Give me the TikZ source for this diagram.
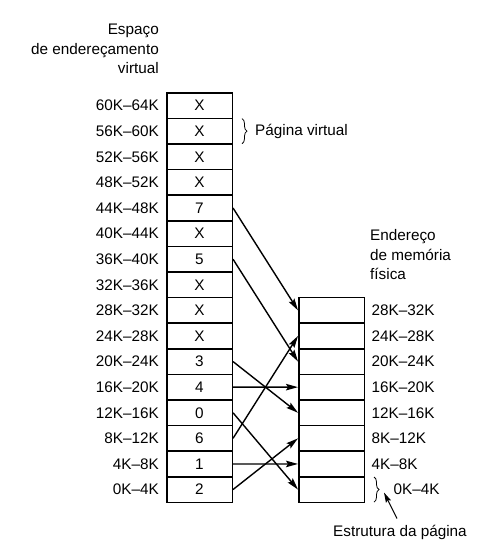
\documentclass[tikz,border=0pt]{standalone}
\usepackage{fontspec}
\setmainfont{Liberation Sans}
\usetikzlibrary{arrows.meta,decorations.pathreplacing,calc}
\begin{document}
\begin{tikzpicture}[x=1pt,y=-1pt,
  txt/.style={inner sep=0pt,font=\fontsize{15.3}{19.5}\selectfont},
  cell/.style={txt,draw,line width=1.5pt,minimum width=65.5pt,minimum height=25.6pt,anchor=north west},
  arr/.style={line width=1.4pt,-{Stealth[length=12pt,width=6.5pt,inset=2pt]}},
  arrsmall/.style={line width=1pt,-{Stealth[length=10pt,width=5.5pt,inset=1.5pt]}},
  brc/.style={decorate,decoration={brace,amplitude=5pt},line width=0.8pt}]
\useasboundingbox[fill=white] (0,0) rectangle (484,552);
% header texts
\node[txt,align=right,anchor=east] (vh) at (159,49) {Espaço\\de endereçamento\\virtual};
\node[txt,align=left,anchor=west] (ph) at (370,255) {Endereço\\de memória\\física};
% virtual pages
\foreach \t/\l [count=\i from 0] in {X/60K–64K,X/56K–60K,X/52K–56K,X/48K–52K,7/44K–48K,X/40K–44K,5/36K–40K,X/32K–36K,X/28K–32K,X/24K–28K,3/20K–24K,4/16K–20K,0/12K–16K,6/8K–12K,1/4K–8K,2/0K–4K}{
  \node[cell] (v\i) at (166,{92+\i*25.6}) {\t};
  \node[txt,anchor=east] (vl\i) at ([xshift=-7pt]v\i.west) {\l};
}
% physical frames
\foreach \l [count=\j from 0] in {28K–32K,24K–28K,20K–24K,16K–20K,12K–16K,8K–12K,4K–8K}{
  \node[cell] (p\j) at (298,{296.8+\j*25.6}) {};
  \node[txt,anchor=west] (pl\j) at ([xshift=6.5pt]p\j.east) {\l};
}
\node[cell] (p7) at (298,{296.8+7*25.6}) {};
\node[txt,anchor=west] (pl7) at ([xshift=28.5pt]p7.east) {0K–4K};
% braces and labels
\draw[brc] ([xshift=9pt,yshift=-1pt]v1.north east) -- ([xshift=9pt,yshift=1pt]v1.south east);
\node[txt,anchor=west] (pv) at ([xshift=22pt]v1.east) {Página virtual};
\draw[brc] ([xshift=9pt,yshift=-1pt]p7.north east) -- ([xshift=9pt,yshift=1pt]p7.south east);
\coordinate (bt) at ($(p7.east)+(19,3)$);
\node[txt] (est) at (400,532) {Estrutura da página};
\draw[arrsmall] ([xshift=-3pt,yshift=6pt]est.north) -- (bt);
% mapping arrows
\draw[arr] (v4.east) -- (p0.west);
\draw[arr] (v6.east) -- (p2.west);
\draw[arr] (v10.east) -- (p4.west);
\draw[arr] (v11.east) -- (p3.west);
\draw[arr] (v12.east) -- (p7.west);
\draw[arr] (v13.east) -- (p1.west);
\draw[arr] (v14.east) -- (p6.west);
\draw[arr] (v15.east) -- (p5.west);
\end{tikzpicture}
\end{document}
